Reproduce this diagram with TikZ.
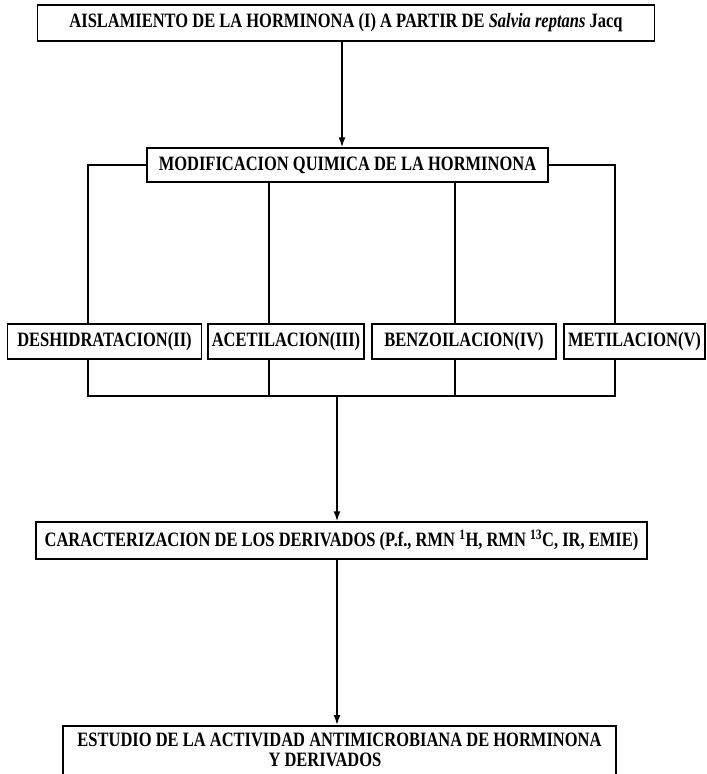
\documentclass[tikz,border=0pt]{standalone}
\usepackage{fontspec}
\setmainfont{Liberation Serif}
\usetikzlibrary{arrows.meta,calc}
\newcommand{\vtx}[1]{\scalebox{0.97}[1.2]{#1}}
\begin{document}
\begin{tikzpicture}[x=1pt,y=-1pt,
  box/.style={draw,line width=1.5pt,inner sep=0pt,font=\fontsize{17}{16}\selectfont\bfseries},
  conn/.style={line width=1.5pt},
  arr/.style={line width=1.5pt,-{Latex[length=10pt,width=7pt]}}]
\useasboundingbox (0,0) rectangle (707,774);
\clip (0,0) rectangle (707,774);
% boxes
\node[box,minimum width=617pt,minimum height=36pt] (top) at (346,23)
  {\vtx{AISLAMIENTO DE LA HORMINONA (I) A PARTIR DE \textit{Salvia reptans} Jacq}};
\node[box,minimum width=401pt,minimum height=34pt] (mod) at (347.5,165)
  {\vtx{MODIFICACION QUIMICA DE LA HORMINONA}};
\node[box,minimum width=194pt,minimum height=35pt] (d) at (104.5,341.5) {\vtx{DESHIDRATACION(II)}};
\node[box,minimum width=156pt,minimum height=35pt] (a) at (286,341.5) {\vtx{ACETILACION(III)}};
\node[box,minimum width=184pt,minimum height=35pt] (b) at (464,341.5) {\vtx{BENZOILACION(IV)}};
\node[box,minimum width=141pt,minimum height=35pt] (m) at (634.5,341.5) {\vtx{METILACION(V)}};
\node[box,minimum width=611pt,minimum height=37pt] (car) at (341.5,540.5)
  {\vtx{CARACTERIZACION DE LOS DERIVADOS (P.f., RMN \textsuperscript{1}H, RMN \textsuperscript{13}C, IR, EMIE)}};
\node[box,minimum width=553pt,minimum height=70pt,anchor=north] (est) at (339.5,725) {};
\node[font=\fontsize{17}{16}\selectfont\bfseries,inner sep=0pt] (estt) at (339.5,752.5)
  {\vtx{\begin{tabular}{@{}c@{}}ESTUDIO DE LA ACTIVIDAD ANTIMICROBIANA DE HORMINONA\\ Y DERIVADOS\hspace*{30pt}\end{tabular}}};
% branch coordinates
\coordinate (k1) at (88,396);
\coordinate (k2) at (269,396);
\coordinate (k3) at (455,396);
\coordinate (k4) at (615,396);
\coordinate (kc) at (337,396);
% connectors
\draw[arr] (top.south -| 342,0) -- (mod.north -| 342,0);
\draw[conn] (mod.west) -| (k1 |- d.north);
\draw[conn] (mod.east) -| (k4 |- m.north);
\draw[conn] (k2 |- mod.south) -- (k2 |- a.north);
\draw[conn] (k3 |- mod.south) -- (k3 |- b.north);
\draw[conn] (k1 |- d.south) -- (k1) -- (k4) -- (k4 |- m.south);
\draw[conn] (k2 |- a.south) -- (k2);
\draw[conn] (k3 |- b.south) -- (k3);
\draw[arr] (kc) -- (kc |- car.north);
\draw[arr] (kc |- car.south) -- (kc |- est.north);
\end{tikzpicture}
\end{document}
